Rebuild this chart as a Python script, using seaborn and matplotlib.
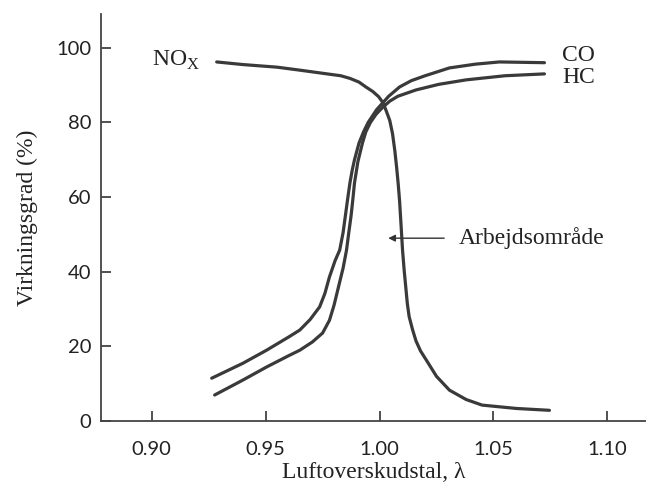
import seaborn as sns
import matplotlib.pyplot as plt
import pandas as pd

# values
nox_lam = [0.9285, 0.94, 0.955, 0.965, 0.977, 0.983, 0.987, 0.991, 0.994, 0.997, 0.9996, 1.0015,
           1.003, 1.0045, 1.0057, 1.0067, 1.0075, 1.0082, 1.0088, 1.0095, 1.0101, 1.0108, 1.0115,
           1.0122, 1.013, 1.0145, 1.016, 1.018, 1.0206, 1.025, 1.0307, 1.038, 1.045, 1.06, 1.0746]
nox_val = [96.2, 95.5, 94.8, 94.0, 93.0, 92.5, 91.8, 90.8, 89.5, 88.3, 86.9, 85.3,
           83, 80.5, 77, 72.5, 68, 63.5, 59, 52, 45.8, 40.5, 36,
           31.5, 28, 24.5, 21.5, 18.8, 16.3, 12, 8.3, 5.8, 4.3, 3.4, 2.9]

co_lam = [0.9263, 0.94, 0.9504, 0.96, 0.965, 0.9695, 0.9737, 0.976, 0.978, 0.9805, 0.9825,
          0.984, 0.985, 0.986, 0.987, 0.988, 0.989, 0.991, 0.993, 0.995, 0.9987, 1.004,
          1.0088, 1.014, 1.02, 1.0307, 1.042, 1.0526, 1.0724]
co_val = [11.5, 15.5, 19, 22.5, 24.4, 27.2, 30.6, 34.2, 38.6, 43, 45.8,
          50.5, 55, 59.5, 63.8, 67.2, 70, 74.5, 77.5, 80, 83.4, 87,
          89.5, 91.2, 92.5, 94.6, 95.6, 96.2, 96]

hc_lam = [0.9276, 0.94, 0.9504, 0.96, 0.965, 0.9705, 0.975, 0.978, 0.98, 0.982, 0.984,
          0.9855, 0.9865, 0.9875, 0.9883, 0.989, 0.9905, 0.9925, 0.994, 0.996, 0.9985,
          1.0013, 1.0045, 1.008, 1.016, 1.026, 1.038, 1.055, 1.0724]
hc_val = [7.0, 11, 14.5, 17.5, 19, 21.2, 23.6, 27, 31, 36, 41,
          45.8, 50.5, 55, 59.5, 63.8, 69.5, 74.5, 77.5, 80, 82.2,
          84, 85.7, 87, 88.7, 90.2, 91.4, 92.5, 93]

xticks = [0.90, 0.95, 1.00, 1.05, 1.10]
yticks = [0, 20, 40, 60, 80, 100]

sns.set_style("ticks", {'xtick.direction': 'in', 'ytick.direction': 'in'})
plt.rcParams['font.family'] = ['Liberation Serif', 'DejaVu Serif']
plt.rcParams['xtick.major.size'] = 6
plt.rcParams['ytick.major.size'] = 6
plt.rcParams['xtick.major.width'] = 1.2
plt.rcParams['ytick.major.width'] = 1.2

fig = plt.figure(figsize=(6.46, 4.88), dpi=100)
ax = fig.add_axes([0.156, 0.137, 0.844, 0.834])

col = '#3a3a3a'
for lam, val in [(nox_lam, nox_val), (co_lam, co_val), (hc_lam, hc_val)]:
    df = pd.DataFrame({'lam': lam, 'val': val})
    sns.lineplot(data=df, x='lam', y='val', ax=ax, color=col, linewidth=2.3, sort=False)

sns.despine(ax=ax)
for s in ['left', 'bottom']:
    ax.spines[s].set_linewidth(1.3)
    ax.spines[s].set_color('#444444')

ax.set_xlim(0.8776, 1.117)
ax.set_ylim(0, 109)
ax.set_xticks(xticks)
ax.set_xticklabels([f'{t:.2f}' for t in xticks], family='Lato', fontsize=14.5)
ax.set_yticks(yticks)
ax.set_yticklabels([str(t) for t in yticks], family='Lato', fontsize=14.5)
ax.tick_params(which='major', bottom=True, left=True, direction='in', length=7, width=1.2,
               color='#333333', labelcolor='#222222')
ax.tick_params(axis='x', pad=14)
ax.tick_params(axis='y', pad=7)

ax.set_xlabel('Luftoverskudstal, λ', fontsize=17, color='#222222', labelpad=3)
ax.set_ylabel('Virkningsgrad (%)', fontsize=17, color='#222222', labelpad=13)

ax.text(0.921, 96.5, r'NO$_\mathregular{X}$', fontsize=17, ha='right', va='center', color='#222222')
ax.text(1.0803, 98.0, 'CO', fontsize=17, ha='left', va='center', color='#222222')
ax.text(1.0803, 92.0, 'HC', fontsize=17, ha='left', va='center', color='#222222')
ax.text(1.035, 49, 'Arbejdsområde', fontsize=17, ha='left', va='center', color='#222222')
ax.annotate('', xy=(1.0026, 49), xytext=(1.0296, 49),
            arrowprops=dict(arrowstyle='-|>', color='#333333', lw=1.0, mutation_scale=10))

fig.savefig('out.png', dpi=100)
